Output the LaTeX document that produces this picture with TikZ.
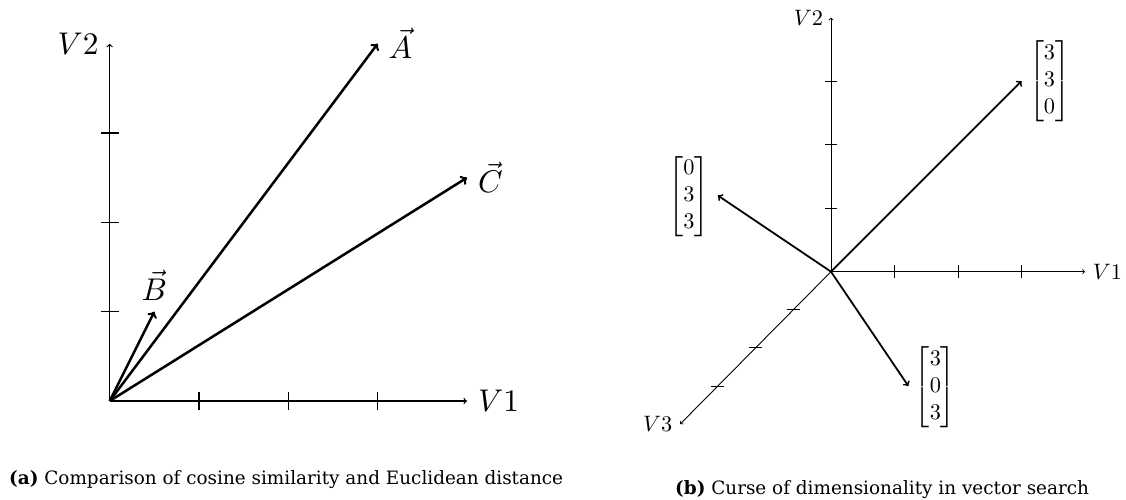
\documentclass[tikz,border=0pt]{standalone}
\usepackage{amsmath}
\usepackage{fontspec}
\usetikzlibrary{calc}
\newfontfamily\capfont{DejaVu Serif}
\tikzset{
  axisL/.style={line width=1.256pt},
  vecL/.style={line width=2.51pt,->},
  axisR/.style={line width=0.893pt},
  vecR/.style={line width=1.786pt,->},
  captext/.style={anchor=base west,inner sep=0pt,font=\capfont\fontsize{18.4}{22}\selectfont}
}
\begin{document}
\begin{tikzpicture}[x=1pt,y=1pt]
\useasboundingbox (0,0) rectangle (1126,500);
% ---------- panel (a)
\begin{scope}[shift={(109.7,99)},x=1cm,y=1cm,scale=3.139,transform shape]
  \coordinate (O) at (0,0);
  \coordinate (X) at (4,0);
  \coordinate (Y) at (0,4);
  \coordinate (A) at (3,4);
  \coordinate (B) at (0.5,1);
  \coordinate (C) at (4,2.5);
  \draw[axisL,->] (O) -- (X);
  \draw[axisL,->] (O) -- (Y);
  \node[right] (lv1) at (X) {$V1$};
  \node[left] (lv2) at (Y) {$V2$};
  \foreach \i in {1,2,3} {
    \draw[axisL] (\i,0.1) -- (\i,-0.1);
    \draw[axisL] (0.1,\i) -- (-0.1,\i);
  }
  \draw[vecL] (O) -- (A);
  \draw[vecL] (O) -- (B);
  \draw[vecL] (O) -- (C);
  \node[right] (la) at (A) {$\vec{A}$};
  \node[above] (lb) at (B) {$\vec{B}$};
  \node[right] (lc) at (C) {$\vec{C}$};
\end{scope}
% ---------- panel (b)
\begin{scope}[shift={(831,228.3)},x=1cm,y=1cm,z={(-0.594cm,-0.6cm)},scale=2.232,transform shape]
  \coordinate (P) at (0,0,0);
  \coordinate (X1) at (4,0,0);
  \coordinate (Y1) at (0,4,0);
  \coordinate (Z1) at (0,0,4);
  \coordinate (U) at (3,3,0);
  \coordinate (W) at (0,3,3);
  \coordinate (T) at (3,0,3);
  \draw[axisR,->] (P) -- (X1);
  \draw[axisR,->] (P) -- (Y1);
  \draw[axisR,->] (P) -- (Z1);
  \node[right] (rv1) at (X1) {$V1$};
  \node[left] (rv2) at (Y1) {$V2$};
  \node[left] (rv3) at (Z1) {$V3$};
  \foreach \i in {1,2,3} {
    \draw[axisR] (\i,0.1,0) -- (\i,-0.1,0);
    \draw[axisR] (0.1,\i,0) -- (-0.1,\i,0);
    \draw[axisR] ($(0,0,\i)+(0.1,0,0)$) -- ($(0,0,\i)+(-0.1,0,0)$);
  }
  \draw[vecR] (P) -- (U);
  \draw[vecR] (P) -- (W);
  \draw[vecR] (P) -- (T);
  \node (mu) at (3.441,3.0) {$\begin{bmatrix}3\\3\\0\end{bmatrix}$};
  \node (mw) at (-2.236,1.187) {$\begin{bmatrix}0\\3\\3\end{bmatrix}$};
  \node (mt) at (1.643,-1.82) {$\begin{bmatrix}3\\0\\3\end{bmatrix}$};
\end{scope}
% ---------- captions
\node[captext] (capa) at (9,15.7) {\textbf{(a)} Comparison of cosine similarity and Euclidean distance};
\node[captext] (capb) at (675,5) {\textbf{(b)} Curse of dimensionality in vector search};
\end{tikzpicture}
\end{document}
